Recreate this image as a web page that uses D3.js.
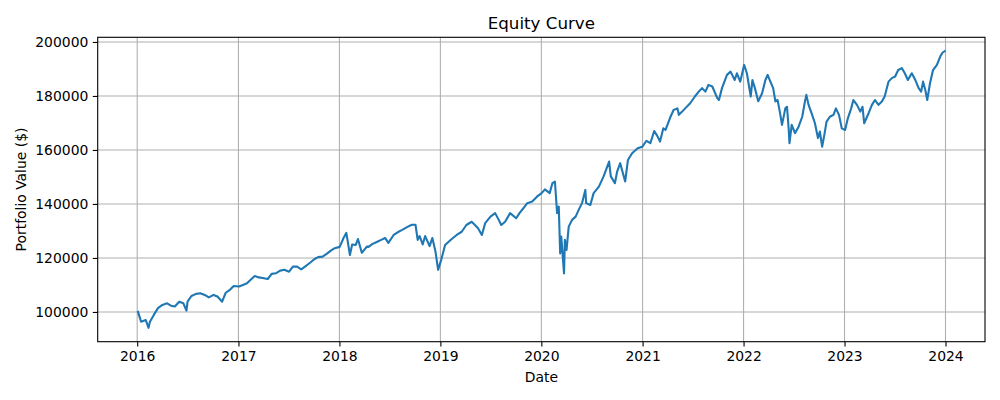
<!DOCTYPE html>
<html>
<head>
<meta charset="utf-8">
<script src="https://cdn.jsdelivr.net/npm/d3@7"></script>
<style>
  body { margin: 0; background: #fff; }
  svg text { font-family: "DejaVu Sans", sans-serif; fill: #000; }
</style>
</head>
<body>
<svg id="chart" width="1000" height="400"></svg>
<script>
var dates = [
  "2016-01-04","2016-01-15","2016-02-01","2016-02-11","2016-02-16","2016-03-01","2016-03-16","2016-04-01",
  "2016-04-18","2016-05-02","2016-05-16","2016-06-01","2016-06-16","2016-06-27","2016-07-01","2016-07-15",
  "2016-08-01","2016-08-16","2016-09-01","2016-09-16","2016-10-03","2016-10-17","2016-11-03","2016-11-16",
  "2016-12-01","2016-12-15",
  "2017-01-03","2017-01-17","2017-02-01","2017-02-16","2017-03-01","2017-03-16","2017-04-03","2017-04-17",
  "2017-05-01","2017-05-16","2017-06-01","2017-06-16","2017-07-03","2017-07-17","2017-08-01","2017-08-16",
  "2017-09-01","2017-09-18","2017-10-02","2017-10-16","2017-11-01","2017-11-16","2017-12-01","2017-12-15",
  "2018-01-02","2018-01-16","2018-01-26","2018-02-08","2018-02-16","2018-03-01","2018-03-09","2018-03-23",
  "2018-04-10","2018-04-16","2018-05-01","2018-05-16","2018-06-01","2018-06-15","2018-06-27","2018-07-16",
  "2018-08-01","2018-08-16","2018-09-04","2018-09-20","2018-10-03","2018-10-11","2018-10-18","2018-10-29",
  "2018-11-07","2018-11-23","2018-12-03","2018-12-14","2018-12-24",
  "2019-01-04","2019-01-18","2019-02-11","2019-03-01","2019-03-19","2019-04-05","2019-04-24","2019-05-06",
  "2019-05-17","2019-05-31","2019-06-12","2019-07-01","2019-07-18","2019-07-31","2019-08-09","2019-08-23",
  "2019-09-10","2019-10-02","2019-10-14","2019-10-28","2019-11-11","2019-11-29","2019-12-16",
  "2020-01-02","2020-01-14","2020-01-31","2020-02-10","2020-02-19","2020-02-27","2020-03-04","2020-03-09",
  "2020-03-13","2020-03-23","2020-03-26","2020-04-01","2020-04-09","2020-04-21","2020-05-04","2020-05-15",
  "2020-05-27","2020-06-08","2020-06-11","2020-06-26","2020-07-08","2020-07-27","2020-08-13","2020-09-02",
  "2020-09-08","2020-09-23","2020-10-01","2020-10-12","2020-10-30","2020-11-09","2020-11-24","2020-12-14",
  "2020-12-31",
  "2021-01-15","2021-01-29","2021-02-12","2021-02-23","2021-03-05","2021-03-17","2021-03-25","2021-04-12",
  "2021-04-23","2021-05-07","2021-05-12","2021-05-24","2021-06-04","2021-06-22","2021-07-09","2021-07-23",
  "2021-08-04","2021-08-16","2021-08-27","2021-09-10","2021-09-28","2021-10-04","2021-10-15","2021-11-02",
  "2021-11-15","2021-11-30","2021-12-08","2021-12-20",
  "2022-01-03","2022-01-13","2022-01-27","2022-02-02","2022-02-11","2022-02-23","2022-03-09","2022-03-21",
  "2022-03-29","2022-04-08","2022-04-18","2022-04-26","2022-05-04","2022-05-12","2022-05-20","2022-06-01",
  "2022-06-07","2022-06-13","2022-06-16","2022-06-24","2022-07-06","2022-07-19","2022-08-01","2022-08-11",
  "2022-08-16","2022-08-24","2022-09-06","2022-09-16","2022-09-27","2022-10-04","2022-10-12","2022-10-20",
  "2022-10-28","2022-11-09","2022-11-22","2022-12-01","2022-12-12","2022-12-22",
  "2023-01-03","2023-01-13","2023-01-25","2023-02-02","2023-02-15","2023-02-27","2023-03-07","2023-03-13",
  "2023-03-29","2023-04-10","2023-04-21","2023-05-04","2023-05-16","2023-05-26","2023-06-09","2023-06-21",
  "2023-07-03","2023-07-14","2023-07-27","2023-08-07","2023-08-18","2023-09-01","2023-09-14","2023-09-26",
  "2023-10-05","2023-10-12","2023-10-20","2023-10-27","2023-11-06","2023-11-17","2023-12-01","2023-12-13",
  "2023-12-21","2023-12-29"
];

var values = [
  100000, 96400, 97000, 94100, 96400, 98900, 101400, 102600,
  103200, 102300, 102000, 103800, 103200, 100500, 103800, 105900,
  106700, 106900, 106300, 105400, 106300, 105700, 103800, 107100,
  108200, 109600,
  109400, 110000, 110600, 112100, 113300, 112800, 112500, 112200,
  114100, 114300, 115300, 115600, 114900, 116800, 116800, 115800,
  117000, 118300, 119500, 120300, 120500, 121500, 122700, 123600,
  124100, 127400, 129300, 121100, 125000, 124800, 127000, 121900,
  124200, 124100, 125200, 125900, 126700, 127400, 125600, 128500,
  129600, 130400, 131500, 132300, 132300, 126700, 128100, 125000,
  128100, 124400, 127400, 122500, 115600,
  119300, 124800, 127000, 128500, 129700, 132200, 133400, 132200,
  131000, 128500, 132900, 135300, 136600, 134100, 132200, 133400,
  136600, 134700, 136600, 138400, 140300, 140900, 142700,
  144000, 145400, 144000, 147700, 148300, 136600, 139000, 121700,
  127900, 114300, 126700, 123000, 131600, 134100, 135300, 137800,
  140300, 145200, 140300, 139600, 144000, 146400, 150200, 155700,
  150200, 147700, 152000, 155100, 148300, 156300, 158800, 160600,
  161200,
  163400, 162500, 167000, 165200, 163100, 168000, 167400, 172300,
  174800, 175400, 173000, 174200, 175400, 177300, 179800, 181600,
  182900, 181600, 184100, 183500, 179200, 178500, 182900, 187800,
  189000, 185900, 188400, 185300,
  191500, 188400, 179800, 185900, 182900, 178000, 181000, 185900,
  187800, 185300, 182900, 178000, 178500, 174200, 169300, 175400,
  176000, 168000, 162500, 169300, 166200, 168600, 172300, 178000,
  180400, 176700, 173000, 169900, 164400, 166800, 161200, 165600,
  170500, 172300, 173000, 175400, 173000, 168000,
  167400, 171700, 175400, 178500, 176700, 174200, 176000, 169900,
  173600, 176700, 178500, 176700, 177900, 179800, 185300, 186600,
  187200, 189600, 190300, 188400, 185900, 188400, 185900, 182900,
  181600, 185300, 182200, 178500, 184700, 189600, 191500, 194600,
  196000, 196600
];

var xTickYears = ["2016","2017","2018","2019","2020","2021","2022","2023","2024"];
var yTicks = [100000, 120000, 140000, 160000, 180000, 200000];

var margin = { left: 97.7, right: 15, top: 37.3, bottom: 58.3 };
var width  = 1000 - margin.left - margin.right;
var height = 400 - margin.top - margin.bottom;

var parse = d3.utcParse("%Y-%m-%d");
var data = dates.map(function (d, i) { return { date: parse(d), value: values[i] }; });

// matplotlib style 5% padding on both axes
var xExt = d3.extent(data, function (d) { return d.date; });
var xPad = (xExt[1] - xExt[0]) * 0.05;
var yExt = d3.extent(values);
var yPad = (yExt[1] - yExt[0]) * 0.05;

var x = d3.scaleUtc()
  .domain([new Date(+xExt[0] - xPad), new Date(+xExt[1] + xPad)])
  .range([0, width]);
var y = d3.scaleLinear()
  .domain([yExt[0] - yPad, yExt[1] + yPad])
  .range([height, 0]);

var svg = d3.select("#chart");
var g = svg.append("g").attr("transform", "translate(" + margin.left + "," + margin.top + ")");

var xTickDates = xTickYears.map(function (s) { return parse(s + "-01-01"); });

// grid
g.append("g").selectAll("line").data(xTickDates).enter().append("line")
  .attr("x1", function (d) { return x(d); }).attr("x2", function (d) { return x(d); })
  .attr("y1", 0).attr("y2", height)
  .attr("stroke", "#b0b0b0").attr("stroke-width", 1.1);
g.append("g").selectAll("line").data(yTicks).enter().append("line")
  .attr("x1", 0).attr("x2", width)
  .attr("y1", function (d) { return y(d); }).attr("y2", function (d) { return y(d); })
  .attr("stroke", "#b0b0b0").attr("stroke-width", 1.1);

// equity line
var line = d3.line()
  .x(function (d) { return x(d.date); })
  .y(function (d) { return y(d.value); });

g.append("path")
  .datum(data)
  .attr("d", line)
  .attr("fill", "none")
  .attr("stroke", "#1f77b4")
  .attr("stroke-width", 2.1)
  .attr("stroke-linejoin", "round")
  .attr("stroke-linecap", "square");

// axes
var xAxis = d3.axisBottom(x)
  .tickValues(xTickDates)
  .tickFormat(d3.utcFormat("%Y"))
  .tickSize(4.9).tickPadding(4.5);
var yAxis = d3.axisLeft(y)
  .tickValues(yTicks)
  .tickFormat(d3.format("d"))
  .tickSize(4.9).tickPadding(4.5);

var gx = g.append("g").attr("transform", "translate(0," + height + ")").call(xAxis);
var gy = g.append("g").call(yAxis);
[gx, gy].forEach(function (a) {
  a.select(".domain").remove();
  a.selectAll(".tick line").attr("stroke", "#000").attr("stroke-width", 1.1);
  a.selectAll(".tick text").attr("font-size", "13.9px").attr("fill", "#000")
    .attr("font-family", "DejaVu Sans, sans-serif");
});

// spines
g.append("rect")
  .attr("x", 0).attr("y", 0).attr("width", width).attr("height", height)
  .attr("fill", "none").attr("stroke", "#000").attr("stroke-width", 1.1);

// titles
svg.append("text")
  .attr("x", margin.left + width / 2).attr("y", 29)
  .attr("text-anchor", "middle").attr("font-size", "16.7px")
  .text("Equity Curve");
svg.append("text")
  .attr("x", margin.left + width / 2).attr("y", 382)
  .attr("text-anchor", "middle").attr("font-size", "13.9px")
  .text("Date");
svg.append("text")
  .attr("transform", "translate(26," + (margin.top + height / 2) + ") rotate(-90)")
  .attr("text-anchor", "middle").attr("font-size", "13.9px")
  .text("Portfolio Value ($)");
</script>
</body>
</html>
